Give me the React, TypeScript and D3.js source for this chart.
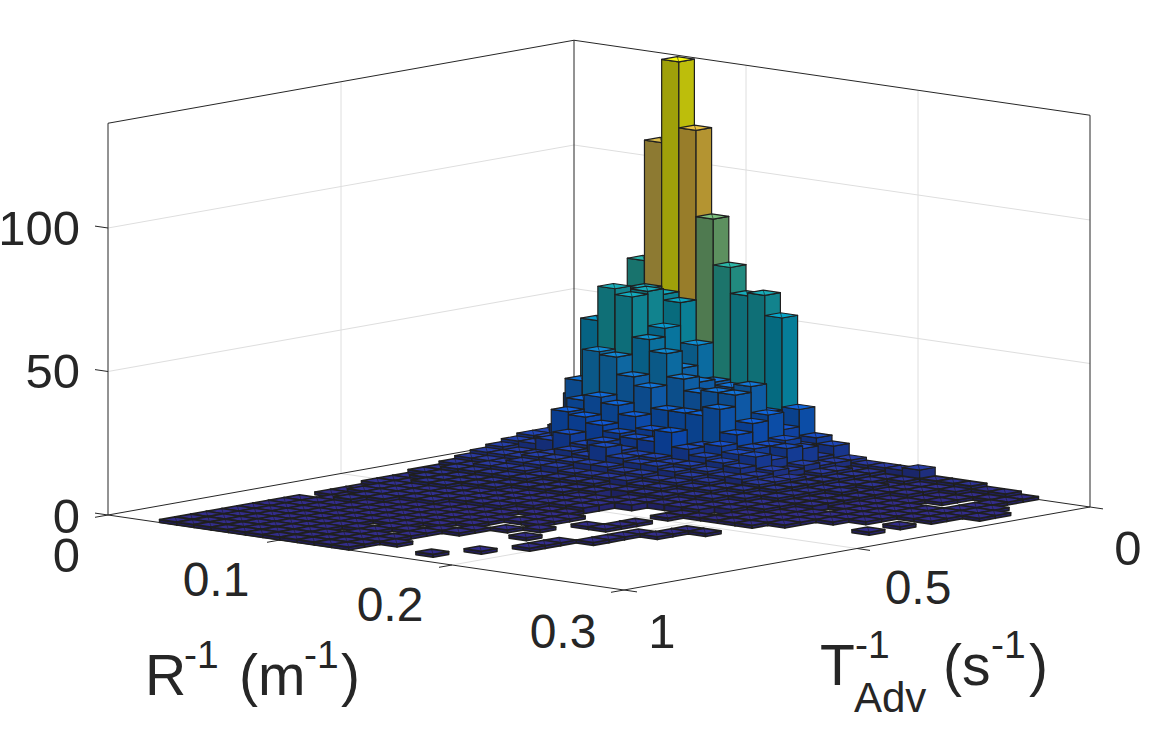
import { useEffect, useRef } from 'react';
import * as d3 from 'd3';

// bin counts, one list per T bin (t29 is T = 0 side, t0 is T = 1 side), starting at the 4th R bin
const t29 = [40, 65, 107, 136, 113, 83, 67, 58, 59, 52, 21, 12, 10, 6, 5, 5, 5, 6, 3, 3, 3, 2, 2, 1];
const t28 = [20, 35, 57, 56, 54, 40, 28, 27, 25, 20, 15, 10, 7, 6, 4, 4, 3, 3, 2, 2, 2, 1, 1, 1];
const t27 = [15, 30, 45, 58, 46, 33, 29, 25, 25, 30, 21, 13, 11, 6, 5, 4, 3, 2, 2, 2, 1, 1, 0, 1];
const t26 = [20, 47, 59, 57, 43, 39, 31, 27, 28, 28, 19, 12, 12, 7, 5, 4, 3, 3, 2, 2, 1, 1, 0, 1, 1];
const t25 = [10, 27, 38, 37, 31, 28, 21, 21, 21, 24, 16, 12, 9, 6, 4, 4, 3, 2, 2, 1, 1, 0, 0, 1, 1, 1];
const t24 = [9, 12, 22, 24, 22, 19, 15, 15, 10, 12, 13, 11, 11, 7, 5, 4, 3, 3, 2, 1, 1, 1, 1, 1, 1, 1];
const t23 = [9, 9, 19, 18, 16, 14, 13, 13, 17, 12, 10, 9, 8, 6, 5, 4, 3, 2, 2, 1, 1, 1, 1, 1, 1];
const t22 = [8, 8, 10, 13, 10, 12, 10, 9, 9, 8, 8, 7, 6, 6, 5, 4, 3, 2, 2, 1, 1, 1, 1, 1, 1];
const t21 = [7, 6, 6, 7, 9, 8, 12, 9, 8, 8, 7, 6, 5, 4, 4, 3, 3, 2, 2, 0, 1, 1, 1];
const t20 = [6, 6, 6, 7, 7, 7, 7, 7, 6, 6, 5, 5, 4, 4, 3, 3, 2, 2, 1, 1, 1, 1, 1, 0, 1];
const t19 = [5, 5, 5, 6, 6, 6, 5, 5, 5, 5, 4, 4, 3, 3, 3, 2, 2, 2, 1, 1, 1, 1];
const t18 = [4, 4, 5, 5, 5, 4, 4, 4, 4, 3, 3, 3, 3, 2, 2, 2, 2, 1, 1, 1, 1, 0, 0, 0, 1];
const t17 = [3, 4, 4, 4, 4, 4, 3, 3, 3, 3, 0, 2, 2, 2, 2, 2, 0, 1, 1, 1, 1];
const t16 = [3, 3, 3, 3, 3, 3, 3, 3, 3, 2, 2, 2, 2, 0, 0, 1, 1, 1, 1, 1];
const t15 = [2, 3, 3, 3, 3, 3, 2, 2, 2, 2, 2, 2, 0, 0, 0, 1];
const t14 = [2, 2, 3, 3, 2, 2, 2, 2, 2, 2, 2, 2];
const t13 = [2, 2, 2, 2, 2, 2, 2, 2, 2, 2, 1, 1, 0, 0, 0, 1, 0, 0, 1, 1];
const t12 = [1, 2, 2, 2, 2, 2, 2, 2, 2, 1, 1, 1, 1, 0, 0, 1, 0, 0, 1];
const t11 = [1, 2, 2, 2, 2, 2, 1, 1, 1, 1, 0, 1, 1, 0, 1, 1, 0, 1, 1];
const t10 = [1, 1, 2, 2, 1, 1, 1, 1, 1, 1, 1, 1, 1, 0, 0, 0, 0, 1];
const t9 = [0, 1, 2, 1, 1, 1, 1, 1, 1, 1, 1, 0, 0, 1, 0, 0, 0, 1];
const t8 = [1, 1, 1, 1, 1, 1, 1, 1, 1, 1, 1, 0, 1, 0, 0, 0, 0, 1];
const t7 = [1, 1, 1, 1, 1, 1, 1, 1, 1, 1, 0, 1, 0, 0, 1, 0, 1];
const t6 = [1, 1, 1, 1, 1, 1, 1, 1, 1, 0, 1, 1, 0, 0, 0, 0, 1];
const t5 = [1, 1, 1, 1, 1, 1, 1, 0, 1, 1, 1, 0, 0, 0, 0, 0, 1];
const t4 = [1, 1, 1, 1, 1, 1, 1, 1, 1, 0, 1];
const t3 = [1, 1, 1, 1, 1, 1, 1, 0, 1, 1, 1, 0, 0, 0, 0, 1];
const t2 = [1, 1, 1, 1, 1, 1, 1, 1, 1, 1, 1, 1];
const t1 = [1, 1, 1, 1, 1, 1, 1, 1, 1, 1, 1, 0, 0, 0, 1];
const t0 = [1, 1, 1, 1, 1, 1, 1, 1, 1, 1, 1];
const rows = [t0, t1, t2, t3, t4, t5, t6, t7, t8, t9, t10, t11, t12, t13, t14, t15, t16, t17, t18, t19, t20, t21, t22, t23, t24, t25, t26, t27, t28, t29];

const rTicks = [0, 0.1, 0.2, 0.3];
const tTicks = [0, 0.5, 1];
const zTicks = [0, 50, 100];
const rMax = 0.3;
const zMax = 136.5;
const nBins = 30;
const firstR = 3;

const parula = ['#352a87', '#0f5cdd', '#1481d6', '#06a4ca', '#2eb7a4', '#87bf77', '#d1bb59', '#fec832', '#f9fb0e'];

const FONT = '"Liberation Sans", Arial, sans-serif';
const INK = '#262626';

export default function App() {
  const svgRef = useRef<SVGSVGElement>(null);

  useEffect(() => {
    if (!svgRef.current) return;
    const svg = d3.select(svgRef.current);
    svg.selectAll('*').remove();

    // orthographic view: each data axis adds its own screen offset
    const rx = d3.scaleLinear().domain([0, rMax]).range([0, 516]);
    const ry = d3.scaleLinear().domain([0, rMax]).range([0, 75]);
    const tx = d3.scaleLinear().domain([1, 0]).range([0, 466]);
    const ty = d3.scaleLinear().domain([1, 0]).range([0, -83]);
    const zy = d3.scaleLinear().domain([0, 100]).range([0, -287]);
    const P = (r: number, t: number, z = 0): [number, number] => [108 + rx(r) + tx(t), 515 + ry(r) + ty(t) + zy(z)];

    const color = d3.scaleLinear<string>()
      .domain(parula.map((_, i) => (i / (parula.length - 1)) * zMax))
      .range(parula)
      .interpolate(d3.interpolateRgb);
    const shade = (c: string, k: number) => {
      const q = d3.rgb(c);
      return d3.rgb(q.r * k, q.g * k, q.b * k).formatRgb();
    };

    const path = d3.line();
    const seg = (g: d3.Selection<SVGGElement, unknown, null, undefined>, a: [number, number], b: [number, number], stroke: string, w = 1) =>
      g.append('path').attr('d', path([a, b])).attr('stroke', stroke).attr('stroke-width', w).attr('fill', 'none');

    // grid
    const grid = svg.append('g');
    const gridColor = '#dedede';
    rTicks.slice(1, -1).forEach((r) => {
      seg(grid, P(r, 1), P(r, 0), gridColor);
      seg(grid, P(r, 0), P(r, 0, zMax), gridColor);
    });
    tTicks.slice(1, -1).forEach((t) => {
      seg(grid, P(0, t), P(rMax, t), gridColor);
      seg(grid, P(0, t), P(0, t, zMax), gridColor);
    });
    zTicks.slice(1).forEach((z) => {
      seg(grid, P(0, 1, z), P(0, 0, z), gridColor);
      seg(grid, P(0, 0, z), P(rMax, 0, z), gridColor);
    });

    // box
    const box = svg.append('g');
    seg(box, P(0, 1), P(rMax, 1), INK);
    seg(box, P(rMax, 1), P(rMax, 0), INK);
    seg(box, P(0, 1), P(0, 0), INK);
    seg(box, P(0, 0), P(rMax, 0), INK);
    seg(box, P(0, 1), P(0, 1, zMax), INK);
    seg(box, P(0, 0), P(0, 0, zMax), INK);
    seg(box, P(rMax, 0), P(rMax, 0, zMax), INK);
    seg(box, P(0, 1, zMax), P(0, 0, zMax), INK);
    seg(box, P(0, 0, zMax), P(rMax, 0, zMax), INK);

    // ticks
    const ticks = svg.append('g');
    rTicks.forEach((r) => {
      const a = P(r, 1);
      seg(ticks, a, [a[0] - 13, a[1] + 2.3], INK);
    });
    tTicks.forEach((t) => {
      const a = P(rMax, t);
      seg(ticks, a, [a[0] + 13, a[1] + 1.9], INK);
    });
    zTicks.forEach((z) => {
      const a = P(0, 1, z);
      seg(ticks, a, [a[0] - 13, a[1] - 1.9], INK);
    });

    // bars, back to front
    const bars = svg.append('g').attr('stroke', '#1f1f1f').attr('stroke-linejoin', 'round');
    const dr = rMax / nBins;
    const dt = 1 / nBins;
    d3.range(nBins - 1, -1, -1).forEach((j) => {
      const row = rows[j];
      d3.range(firstR, nBins).forEach((i) => {
        const h = row[i - firstR] ?? 0;
        if (!h) return;
        const r0 = i * dr;
        const r1 = (i + 1) * dr;
        const t0 = 1 - j * dt;
        const t1 = 1 - (j + 1) * dt;
        const c = color(h);
        const sw = h < 5 ? 1.6 : 1.2;
        const face = (pts: [number, number][], fill: string) =>
          bars.append('path').attr('d', path(pts) + 'Z').attr('fill', fill).attr('stroke-width', sw);
        face([P(r0, t0), P(r1, t0), P(r1, t0, h), P(r0, t0, h)], shade(c, 0.64));
        face([P(r1, t0), P(r1, t1), P(r1, t1, h), P(r1, t0, h)], shade(c, 0.76));
        face([P(r0, t0, h), P(r1, t0, h), P(r1, t1, h), P(r0, t1, h)], c);
        bars.append('path').attr('d', path([P(r0, t1, h), P(r1, t0, h)])).attr('fill', 'none').attr('stroke-width', 0.6);
      });
    });

    // text
    const txt = (x: number, y: number, s: string, size: number, anchor = 'start') =>
      svg.append('text').attr('x', x).attr('y', y).attr('font-family', FONT).attr('font-size', size)
        .attr('fill', INK).attr('text-anchor', anchor).text(s);

    const zLabels = ['0', '50', '100'];
    const zLabelY = [533, 388, 245];
    zLabels.forEach((s, i) => txt(80, zLabelY[i], s, 49, 'end'));
    txt(80, 572, '0', 49, 'end');
    txt(216, 596, '0.1', 48, 'middle');
    txt(390, 621, '0.2', 48, 'middle');
    txt(563, 648, '0.3', 48, 'middle');
    txt(662, 648, '1', 49, 'middle');
    txt(918, 604, '0.5', 48, 'middle');
    txt(1128, 565, '0', 49, 'middle');

    txt(145, 695, 'R', 57);
    txt(184, 668, '-1', 39);
    txt(239, 695, '(m', 57);
    txt(304, 668, '-1', 39);
    txt(341, 695, ')', 57);

    txt(820, 685, 'T', 57);
    txt(855, 658, '-1', 39);
    txt(854, 712, 'Adv', 42);
    txt(943, 685, '(s', 57);
    txt(991, 658, '-1', 39);
    txt(1029, 685, ')', 57);
  }, []);

  return <svg ref={svgRef} width={1153} height={731} style={{ position: 'absolute', left: 0, top: 0, background: '#fff' }} />;
}
